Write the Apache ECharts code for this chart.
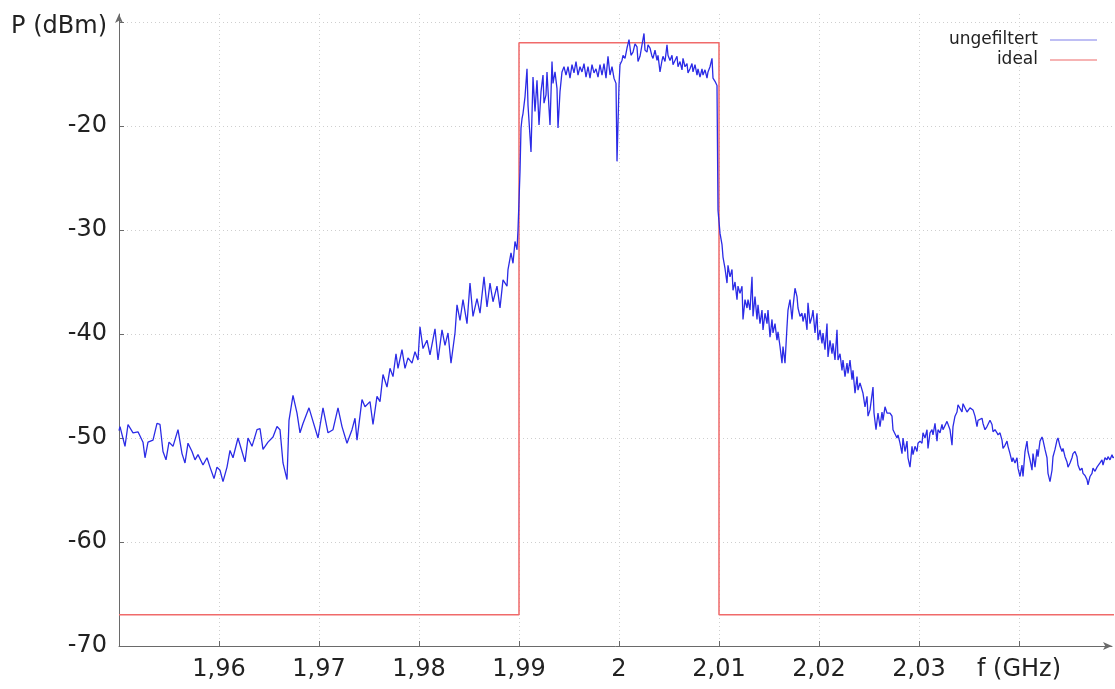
<!DOCTYPE html>
<html>
<head>
<meta charset="utf-8">
<script src="https://cdn.jsdelivr.net/npm/echarts@6/dist/echarts.min.js"></script>
<style>
  html, body { margin: 0; padding: 0; background: #ffffff; }
  #chart { width: 1115px; height: 689px; }
</style>
</head>
<body>
<div id="chart"></div>
<script>
// Measured spectrum: [frequency in GHz, power in dBm]
const ungefiltert = [
  [1.9500,-49.3],[1.9501,-48.9],[1.9506,-50.8],[1.9509,-48.7],[1.9514,-49.5],[1.9519,-49.4],[1.9524,-50.4],[1.9526,-51.9],
  [1.9529,-50.4],[1.9534,-50.2],[1.9538,-48.6],[1.9541,-48.7],[1.9544,-51.3],[1.9547,-52.1],[1.9550,-50.4],[1.9554,-50.8],
  [1.9559,-49.2],[1.9563,-51.5],[1.9566,-52.4],[1.9569,-50.5],[1.9573,-51.3],[1.9576,-52.1],[1.9579,-51.6],[1.9584,-52.6],
  [1.9588,-51.9],[1.9591,-52.8],[1.9595,-53.9],[1.9598,-52.8],[1.9601,-53.1],[1.9604,-54.2],[1.9608,-52.8],[1.9611,-51.2],
  [1.9614,-51.9],[1.9619,-50.0],[1.9623,-51.3],[1.9626,-52.3],[1.9629,-50.0],[1.9633,-50.8],[1.9638,-49.2],[1.9641,-49.1],
  [1.9644,-51.1],[1.9649,-50.4],[1.9654,-49.9],[1.9658,-48.9],[1.9661,-49.2],[1.9664,-52.4],[1.9668,-54.0],[1.9670,-48.3],
  [1.9674,-45.9],[1.9678,-47.6],[1.9681,-49.5],[1.9684,-48.6],[1.9690,-47.1],[1.9694,-48.4],[1.9699,-50.0],[1.9704,-47.1],
  [1.9709,-49.5],[1.9714,-49.2],[1.9719,-47.1],[1.9723,-48.9],[1.9728,-50.5],[1.9733,-49.2],[1.9736,-48.1],[1.9738,-50.2],
  [1.9743,-46.3],[1.9746,-47.0],[1.9751,-46.5],[1.9754,-48.7],[1.9758,-46.0],[1.9761,-46.5],[1.9764,-43.9],[1.9768,-45.1],
  [1.9771,-43.3],[1.9774,-44.1],[1.9777,-41.9],[1.9779,-43.3],[1.9783,-41.5],[1.9786,-43.3],[1.9789,-42.3],[1.9793,-42.8],
  [1.9796,-41.7],[1.9799,-42.5],[1.9801,-39.3],[1.9804,-41.4],[1.9808,-40.6],[1.9811,-42.0],[1.9816,-39.5],[1.9819,-42.5],
  [1.9823,-39.6],[1.9826,-41.1],[1.9829,-39.9],[1.9832,-42.8],[1.9836,-39.9],[1.9838,-37.2],[1.9841,-38.7],[1.9844,-36.7],
  [1.9848,-39.0],[1.9851,-35.1],[1.9854,-38.3],[1.9858,-36.6],[1.9861,-38.0],[1.9865,-34.5],[1.9868,-37.4],[1.9871,-35.1],
  [1.9874,-36.9],[1.9878,-35.4],[1.9881,-37.5],[1.9884,-34.8],[1.9888,-35.4],[1.9889,-33.8],[1.9892,-32.2],[1.9894,-33.2],
  [1.9896,-31.1],[1.9898,-31.9],[1.9899,-30.0],
  [1.9901,-24.4],[1.9902,-20.2],[1.9903,-19.3],[1.9904,-18.8],[1.9906,-17.2],[1.9908,-14.5],[1.9909,-18.0],[1.9912,-22.5],
  [1.9914,-15.3],[1.9916,-18.6],[1.9918,-15.6],[1.9920,-19.9],[1.9922,-16.7],[1.9924,-15.1],[1.9925,-17.8],[1.9927,-17.0],
  [1.9928,-14.8],[1.9930,-18.3],[1.9931,-19.9],[1.9933,-13.8],[1.9934,-15.9],[1.9936,-14.8],[1.9938,-16.4],[1.9939,-20.2],
  [1.9941,-16.7],[1.9943,-14.8],[1.9945,-14.3],[1.9947,-15.1],[1.9949,-14.3],[1.9951,-15.4],[1.9953,-14.1],[1.9955,-14.9],
  [1.9957,-13.8],[1.9959,-15.1],[1.9961,-14.3],[1.9963,-14.8],[1.9965,-14.0],[1.9967,-15.3],[1.9969,-14.3],[1.9971,-15.4],
  [1.9973,-14.1],[1.9975,-14.9],[1.9977,-14.5],[1.9979,-15.3],[1.9981,-14.1],[1.9983,-15.1],[1.9985,-14.0],[1.9987,-15.4],
  [1.9989,-13.3],[1.9991,-15.1],[1.9993,-14.3],[1.9995,-15.4],[1.9997,-15.9],[1.9998,-23.4],[2.0000,-16.1],[2.0001,-14.1],
  [2.0003,-13.7],[2.0004,-13.2],[2.0006,-13.5],[2.0008,-12.5],[2.0009,-12.1],[2.0010,-11.7],[2.0012,-13.2],[2.0014,-12.9],
  [2.0016,-12.1],[2.0018,-12.4],[2.0019,-13.8],[2.0021,-13.3],[2.0023,-12.2],[2.0025,-11.1],[2.0026,-12.7],[2.0028,-12.9],
  [2.0029,-12.2],[2.0031,-12.5],[2.0033,-13.3],[2.0034,-13.5],[2.0036,-12.7],[2.0038,-13.7],[2.0039,-13.2],[2.0041,-14.8],
  [2.0043,-13.7],[2.0044,-13.3],[2.0046,-13.8],[2.0048,-12.2],[2.0049,-13.2],[2.0051,-13.7],[2.0053,-13.2],[2.0054,-14.1],
  [2.0056,-13.7],[2.0058,-13.3],[2.0059,-14.3],[2.0061,-13.8],[2.0063,-14.6],[2.0064,-13.5],[2.0066,-14.3],[2.0068,-14.0],
  [2.0069,-14.9],[2.0071,-14.5],[2.0073,-14.0],[2.0074,-14.8],[2.0076,-14.1],[2.0078,-15.1],[2.0079,-14.5],[2.0081,-15.3],
  [2.0083,-14.5],[2.0084,-15.1],[2.0086,-14.6],[2.0088,-15.4],[2.0089,-14.8],[2.0091,-14.3],[2.0093,-13.5],[2.0094,-15.4],
  [2.0096,-15.7],[2.0098,-16.1],
  [2.0099,-28.1],[2.0101,-30.3],[2.0103,-31.4],[2.0104,-32.6],[2.0106,-33.7],[2.0108,-35.1],[2.0109,-33.4],[2.0111,-34.5],
  [2.0113,-33.8],[2.0114,-35.8],[2.0116,-35.0],[2.0118,-36.7],[2.0119,-35.4],[2.0121,-36.1],[2.0123,-35.4],[2.0124,-38.6],
  [2.0126,-36.7],[2.0128,-37.5],[2.0129,-36.7],[2.0131,-37.7],[2.0133,-34.5],[2.0134,-38.3],[2.0136,-36.4],[2.0138,-38.6],
  [2.0139,-37.2],[2.0141,-39.0],[2.0143,-37.7],[2.0144,-39.6],[2.0146,-38.0],[2.0148,-39.0],[2.0149,-37.7],[2.0151,-40.3],
  [2.0153,-38.6],[2.0154,-39.9],[2.0156,-39.0],[2.0158,-40.6],[2.0159,-39.8],[2.0161,-41.2],[2.0163,-42.8],[2.0164,-41.2],
  [2.0166,-42.8],[2.0168,-39.3],[2.0169,-37.7],[2.0171,-36.7],[2.0173,-38.6],[2.0174,-37.4],[2.0176,-35.6],[2.0178,-36.4],
  [2.0179,-37.5],[2.0181,-38.3],[2.0183,-38.0],[2.0184,-38.8],[2.0186,-38.0],[2.0188,-39.6],[2.0189,-37.0],[2.0191,-39.0],
  [2.0193,-38.3],[2.0194,-37.7],[2.0196,-39.9],[2.0198,-38.0],[2.0199,-40.6],[2.0201,-39.6],[2.0203,-40.9],[2.0204,-39.9],
  [2.0206,-41.5],[2.0208,-39.0],[2.0209,-42.2],[2.0211,-40.6],[2.0213,-41.9],[2.0214,-40.9],[2.0216,-42.5],[2.0218,-39.6],
  [2.0219,-42.5],[2.0221,-41.9],[2.0223,-43.5],[2.0224,-42.5],[2.0226,-44.1],[2.0228,-42.8],[2.0229,-43.8],[2.0231,-42.5],
  [2.0233,-44.4],[2.0234,-43.5],[2.0236,-45.7],[2.0238,-44.1],[2.0239,-45.4],
  [2.0241,-44.7],[2.0244,-45.7],[2.0246,-47.0],[2.0248,-46.0],[2.0249,-47.9],[2.0251,-47.3],[2.0254,-45.1],[2.0255,-47.6],
  [2.0257,-49.2],[2.0259,-47.6],[2.0261,-48.9],[2.0263,-47.5],[2.0264,-48.3],[2.0266,-47.0],[2.0268,-47.6],[2.0271,-47.6],
  [2.0273,-47.9],[2.0274,-49.2],[2.0278,-50.0],[2.0279,-49.7],[2.0281,-50.5],[2.0283,-51.5],[2.0284,-50.0],[2.0286,-51.3],
  [2.0288,-50.3],[2.0289,-51.9],[2.0291,-52.8],[2.0293,-50.8],[2.0294,-51.6],[2.0296,-50.8],[2.0298,-51.3],[2.0299,-50.5],
  [2.0301,-50.3],[2.0303,-50.5],[2.0304,-49.5],[2.0306,-50.0],[2.0308,-49.2],[2.0309,-51.0],[2.0311,-49.5],[2.0313,-49.2],
  [2.0314,-49.7],[2.0316,-48.6],[2.0318,-50.3],[2.0319,-49.2],[2.0321,-49.5],[2.0323,-48.7],[2.0324,-49.2],[2.0326,-49.1],
  [2.0328,-48.4],[2.0329,-48.3],[2.0331,-49.2],[2.0333,-50.7],[2.0334,-48.9],[2.0336,-47.9],[2.0338,-47.5],[2.0339,-46.8],
  [2.0341,-46.8],[2.0343,-47.5],[2.0344,-46.7],[2.0346,-46.7],[2.0348,-47.5],[2.0349,-47.6],[2.0351,-47.1],[2.0353,-47.1],
  [2.0354,-47.3],[2.0356,-47.9],[2.0358,-48.9],[2.0359,-48.3],[2.0361,-48.4],[2.0363,-48.1],[2.0364,-48.6],[2.0366,-49.2],
  [2.0368,-48.9],[2.0371,-48.3],[2.0373,-48.7],[2.0374,-49.4],[2.0376,-49.2],[2.0378,-49.5],[2.0379,-49.7],[2.0381,-49.5],
  [2.0383,-50.2],[2.0384,-51.0],[2.0386,-50.7],[2.0388,-50.3],[2.0389,-50.8],[2.0391,-51.5],[2.0393,-52.3],[2.0394,-51.9],
  [2.0396,-52.4],[2.0398,-51.9],[2.0399,-52.9],[2.0401,-53.7],[2.0403,-52.6],[2.0404,-53.7],[2.0406,-51.3],[2.0408,-50.3],
  [2.0409,-51.3],[2.0411,-52.1],[2.0413,-53.1],[2.0414,-51.5],[2.0416,-52.8],[2.0418,-51.1],[2.0419,-51.8],[2.0421,-50.3],
  [2.0423,-49.9],[2.0424,-50.2],[2.0426,-51.1],[2.0428,-51.9],[2.0429,-53.4],[2.0431,-54.2],[2.0433,-53.1],[2.0434,-51.8],
  [2.0436,-51.1],[2.0438,-50.2],[2.0439,-50.0],[2.0441,-50.8],[2.0443,-51.3],[2.0444,-51.0],[2.0446,-51.8],[2.0448,-52.3],
  [2.0449,-52.8],[2.0451,-52.4],[2.0453,-51.9],[2.0454,-51.5],[2.0456,-51.3],[2.0458,-51.8],[2.0459,-52.6],[2.0461,-53.1],
  [2.0463,-52.9],[2.0464,-53.4],[2.0466,-53.6],[2.0468,-54.0],[2.0469,-54.5],[2.0471,-53.7],[2.0473,-53.4],[2.0474,-52.9],
  [2.0476,-53.2],[2.0478,-52.8],[2.0479,-52.9],[2.0481,-52.4],[2.0483,-52.1],[2.0484,-52.6],[2.0486,-51.9],[2.0488,-52.1],
  [2.0489,-51.8],[2.0491,-52.1],[2.0493,-51.6],[2.0494,-51.9],[2.0496,-51.8]
];

// Ideal band-pass mask: [frequency in GHz, power in dBm]
const ideal = [[1.95,-67],[1.99,-67],[1.99,-12],[2.01,-12],[2.01,-67],[2.05,-67]];

// Axis ticks and their labels
const xTicks = [1.96, 1.97, 1.98, 1.99, 2.00, 2.01, 2.02, 2.03, 2.04];
const xTickLabels = ['1,96', '1,97', '1,98', '1,99', '2', '2,01', '2,02', '2,03', 'f (GHz)'];
const yTicks = [-70, -60, -50, -40, -30, -20, -10];
const yTickLabels = ['-70', '-60', '-50', '-40', '-30', '-20', 'P (dBm)'];

function labelFor(ticks, labels, v) {
  for (let i = 0; i < ticks.length; i++) {
    if (Math.abs(ticks[i] - v) < 1e-6) return labels[i];
  }
  return '';
}

const FONT = 'DejaVu Sans';
const axisGray = '#6a6a6a';
const gridStyle = { color: '#cfcfcf', type: [1, 3], width: 1 };

const chart = echarts.init(document.getElementById('chart'), null, { renderer: 'canvas' });
chart.setOption({
  animation: false,
  backgroundColor: '#ffffff',
  grid: { left: 119, right: 3, top: 14, bottom: 43, containLabel: false },
  legend: {
    orient: 'vertical',
    right: 13,
    top: 25,
    align: 'right',
    icon: 'rect',
    itemWidth: 47,
    itemHeight: 1.5,
    itemGap: 0,
    selectedMode: false,
    textStyle: { fontFamily: FONT, fontSize: 17, color: '#222', lineHeight: 20, padding: [0, 7, 0, 0] },
    data: [
      { name: 'ungefiltert', itemStyle: { color: '#a8a8f0' } },
      { name: 'ideal', itemStyle: { color: '#f39a9a' } }
    ]
  },
  xAxis: {
    type: 'value',
    min: 1.95,
    max: 2.0493,
    axisLine: { show: true, lineStyle: { color: axisGray, width: 1 }, symbol: ['none', 'arrow'], symbolSize: [6, 9] },
    axisTick: { show: true, inside: true, length: 5, lineStyle: { color: axisGray }, customValues: xTicks },
    axisLabel: {
      customValues: xTicks,
      margin: 12,
      fontFamily: FONT, fontSize: 24, color: '#222',
      formatter: v => labelFor(xTicks, xTickLabels, v)
    },
    splitLine: { show: true, lineStyle: gridStyle }
  },
  yAxis: {
    type: 'value',
    min: -70,
    max: -9.23,
    axisLine: { show: true, lineStyle: { color: axisGray, width: 1 }, symbol: ['none', 'arrow'], symbolSize: [6, 9] },
    axisTick: { show: true, inside: true, length: 5, lineStyle: { color: axisGray }, customValues: yTicks },
    axisLabel: {
      customValues: yTicks,
      margin: 12,
      fontFamily: FONT, fontSize: 24, color: '#222',
      formatter: v => {
        const s = labelFor(yTicks, yTickLabels, v);
        // the unit label sits a little lower than its grid line
        return v > -15 ? '{unit|' + s + '}' : s;
      },
      rich: {
        unit: { fontFamily: FONT, fontSize: 24, color: '#222', padding: [10, 0, 0, 0] }
      }
    },
    splitLine: { show: true, lineStyle: gridStyle }
  },
  series: [
    {
      name: 'ideal',
      type: 'line',
      data: ideal,
      symbol: 'none',
      showSymbol: false,
      clip: false,
      z: 2,
      lineStyle: { color: '#f06a6a', width: 1.5 },
      itemStyle: { color: '#f06a6a' }
    },
    {
      name: 'ungefiltert',
      type: 'line',
      data: ungefiltert,
      symbol: 'none',
      showSymbol: false,
      clip: false,
      z: 3,
      lineStyle: { color: '#2b2be6', width: 1.3 },
      itemStyle: { color: '#2b2be6' }
    }
  ]
});
</script>
</body>
</html>
